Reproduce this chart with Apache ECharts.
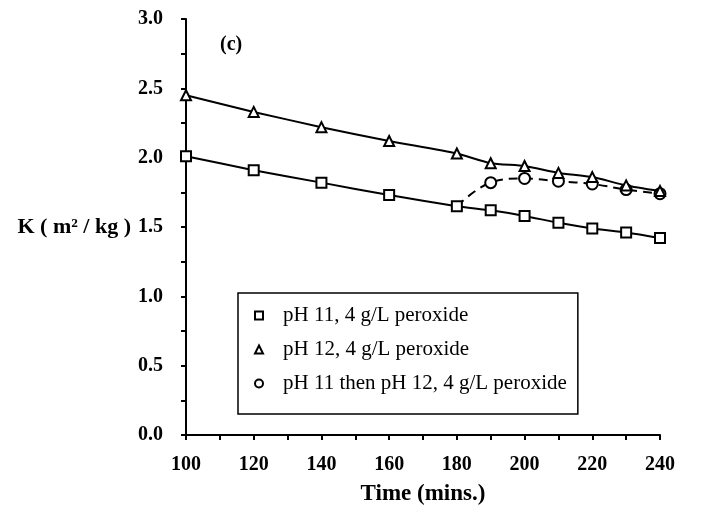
<!DOCTYPE html>
<html>
<head>
<meta charset="utf-8">
<script src="https://cdn.jsdelivr.net/npm/echarts@6/dist/echarts.min.js"></script>
<style>html,body{margin:0;padding:0;background:#fff}#c{width:718px;height:517px}</style>
</head>
<body>
<div id="c"></div>
<script>
var times = [100, 120, 140, 160, 180, 190, 200, 210, 220, 230, 240];
var ph11 = [2.01, 1.91, 1.82, 1.73, 1.65, 1.62, 1.58, 1.53, 1.49, 1.46, 1.42];
var ph12 = [2.45, 2.33, 2.22, 2.12, 2.03, 1.96, 1.94, 1.89, 1.86, 1.80, 1.76];
var switchTimes = [180, 190, 200, 210, 220, 230, 240];
var switchVals = [1.65, 1.82, 1.85, 1.83, 1.81, 1.77, 1.74];
var names = ['pH 11, 4 g/L peroxide', 'pH 12, 4 g/L peroxide', 'pH 11 then pH 12, 4 g/L peroxide'];

var FONT = '"Liberation Serif", "Times New Roman", serif';
function pairs(xs, ys) { return xs.map(function (x, i) { return [x, ys[i]]; }); }
var swData = pairs(switchTimes, switchVals).map(function (p, i) {
  return i === 0 ? { value: p, symbol: 'none' } : p;
});

var chart = echarts.init(document.getElementById('c'), null, { renderer: 'canvas' });
chart.setOption({
  animation: false,
  backgroundColor: '#fff',
  grid: { left: 186, right: 58, top: 19, bottom: 82, containLabel: false },
  graphic: [{
    type: 'text', left: 220, top: 35,
    style: { text: '(c)', font: 'bold 20px ' + FONT, fill: '#000' }
  }],
  legend: {
    orient: 'vertical', left: 238, top: 293,
    padding: [12, 11, 20, 16],
    itemGap: 13, itemWidth: 10, itemHeight: 10,
    borderColor: '#000', borderWidth: 1.5,
    lineStyle: { width: 0, opacity: 0 },
    textStyle: { fontFamily: FONT, fontSize: 21, color: '#000', lineHeight: 20, padding: [0, 0, 0, 14] },
    data: names
  },
  xAxis: {
    type: 'value', min: 100, max: 240, interval: 20,
    name: 'Time (mins.)', nameLocation: 'middle', nameGap: 48,
    nameTextStyle: { fontFamily: FONT, fontWeight: 'bold', fontSize: 23, color: '#000' },
    axisLine: { lineStyle: { color: '#000', width: 2 } },
    axisTick: { inside: false, length: 5, lineStyle: { color: '#000', width: 2 } },
    minorTick: { show: true, splitNumber: 2, length: 5, lineStyle: { color: '#000', width: 2 } },
    splitLine: { show: false },
    axisLabel: { margin: 20, fontFamily: FONT, fontWeight: 'bold', fontSize: 20, color: '#000' }
  },
  yAxis: {
    type: 'value', min: 0, max: 3, interval: 0.5,
    name: 'K ( m² / kg )', nameLocation: 'middle', nameRotate: 0, nameGap: 55,
    nameTextStyle: { fontFamily: FONT, fontWeight: 'bold', fontSize: 22, color: '#000', align: 'right' },
    axisLine: { show: true, lineStyle: { color: '#000', width: 2 } },
    axisTick: { show: true, inside: false, length: 5, lineStyle: { color: '#000', width: 2 } },
    minorTick: { show: true, splitNumber: 2, length: 5, lineStyle: { color: '#000', width: 2 } },
    splitLine: { show: false },
    axisLabel: { margin: 23, fontFamily: FONT, fontWeight: 'bold', fontSize: 20, color: '#000',
      formatter: function (v) { return v.toFixed(1); } }
  },
  series: [
    {
      name: names[0], type: 'line', data: pairs(times, ph11),
      symbol: 'emptyRect', symbolSize: 10, smooth: 0.2,
      lineStyle: { color: '#000', width: 2 },
      itemStyle: { color: '#000', borderWidth: 2.5 }, z: 3
    },
    {
      name: names[1], type: 'line', data: pairs(times, ph12),
      symbol: 'emptyTriangle', symbolSize: 10, smooth: 0.2,
      lineStyle: { color: '#000', width: 2 },
      itemStyle: { color: '#000', borderWidth: 2.5 }, z: 3
    },
    {
      name: names[2], type: 'line', data: swData,
      symbol: 'emptyCircle', symbolSize: 11, smooth: 0.4,
      lineStyle: { color: '#000', width: 2, type: [9, 6] },
      itemStyle: { color: '#000', borderWidth: 2.5 }, z: 2
    }
  ]
});
</script>
</body>
</html>
